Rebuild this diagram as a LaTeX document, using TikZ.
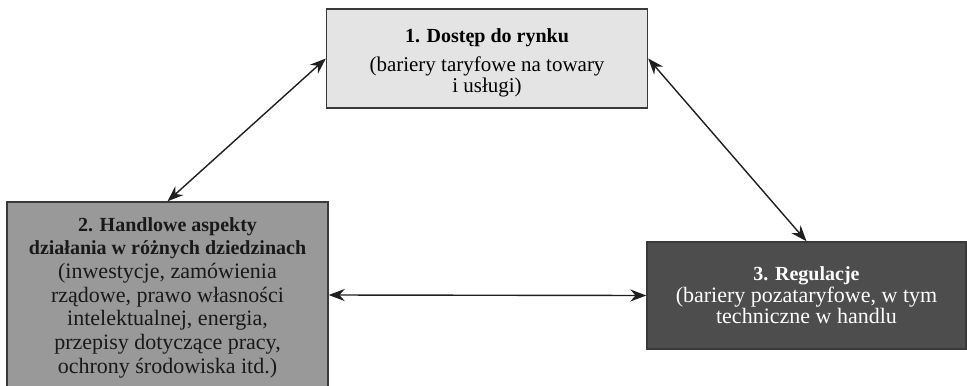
\documentclass[tikz,border=0pt]{standalone}
\usepackage{fontspec}
\setmainfont{Liberation Serif}
\usetikzlibrary{arrows.meta}
\definecolor{boxlight}{HTML}{E4E4E4}
\definecolor{boxmid}{HTML}{999999}
\definecolor{boxdark}{HTML}{4D4D4D}
\definecolor{boxedge}{HTML}{3A3A3A}
\newcommand{\boxhead}[1]{{\fontsize{10}{10}\selectfont\bfseries #1}}
\begin{document}
\begin{tikzpicture}[x=0.5pt,y=-0.5pt,
  area/.style={draw=boxedge,line width=0.7pt,align=center,inner sep=0pt},
  link/.style={{Stealth[length=8pt,width=6pt]}-{Stealth[length=8pt,width=6pt]},line width=0.7pt,draw=black!88}]
\useasboundingbox (0,0) rectangle (967,385);
\node[area,fill=boxlight,minimum width=160.5pt,minimum height=49.5pt,
  font=\fontsize{10.5}{10.8}\selectfont] (rynek) at (487,58.5)
  {\rule{0pt}{11.5pt}\boxhead{1. Dostęp do rynku}\\[3.5pt](bariery taryfowe na towary\\i usługi)};
\node[area,fill=boxmid,text=black!90,minimum width=160.5pt,minimum height=93pt,
  font=\fontsize{11}{11.85}\selectfont] (handel) at (167.5,295)
  {\rule{0pt}{9.5pt}\boxhead{2. Handlowe aspekty}\\\boxhead{działania w różnych dziedzinach}\\(inwestycje, zamówienia\\rządowe, prawo własności\\intelektualnej, energia,\\przepisy dotyczące pracy,\\ochrony środowiska itd.)};
\node[area,fill=boxdark,text=white,minimum width=159.5pt,minimum height=53.5pt,
  font=\fontsize{11}{10.8}\selectfont] (regulacje) at (806.5,295.5)
  {\boxhead{3. Regulacje}\\(bariery pozataryfowe, w tym\\techniczne w handlu};
\draw[link] (rynek.west) -- (handel.north);
\draw[link] (rynek.east) -- (regulacje.north);
\draw[link] (handel.east) -- (regulacje.west);
\end{tikzpicture}
\end{document}
